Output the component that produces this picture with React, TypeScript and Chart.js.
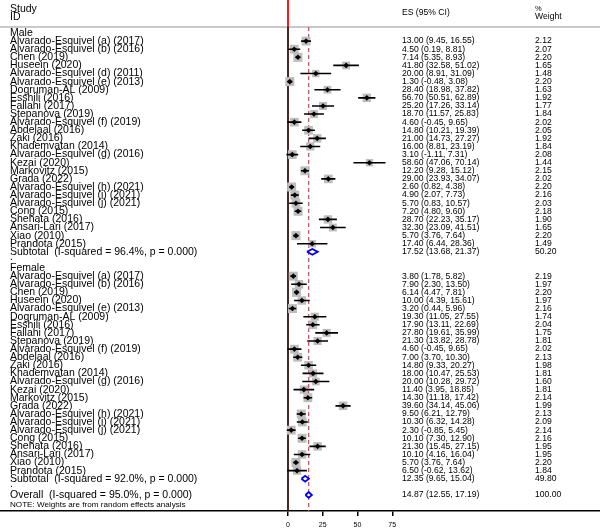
import React, { useEffect, useRef } from 'react';
import { Chart, registerables } from 'chart.js';

Chart.register(...registerables);

// ---------- data ----------
const maleStudies = [
  'Alvarado-Esquivel (a) (2017)', 'Alvarado-Esquivel (b) (2016)', 'Chen (2019)', 'Huseein (2020)',
  'Alvarado-Esquivel (d) (2011)', 'Alvarado-Esquivel (e) (2013)', 'Dogruman-AL (2009)', 'Esshili (2016)',
  'Fallahi (2017)', 'Stepanova (2019)', 'Alvarado-Esquivel (f) (2019)', 'Abdelaal (2016)', 'Zaki (2016)',
  'Khademvatan (2014)', 'Alvarado-Esquivel (g) (2016)', 'Kezai (2020)', 'Markovitz (2015)', 'Grada (2022)',
  'Alvarado-Esquivel (h) (2021)', 'Alvarado-Esquivel (i) (2021)', 'Alvarado-Esquivel (j) (2021)',
  'Cong (2015)', 'Shehata (2016)', 'Ansari-Lari (2017)', 'Xiao (2010)', 'Prandota (2015)',
];
const maleES = [13.0, 4.5, 7.14, 41.8, 20.0, 1.3, 28.4, 56.7, 25.2, 18.7, 4.6, 14.8, 21.0, 16.0, 3.1, 58.6, 12.2, 29.0, 2.6, 4.9, 5.7, 7.2, 28.7, 32.3, 5.7, 17.4];
const maleLower = [9.45, 0.19, 5.35, 32.58, 8.91, -0.48, 18.98, 50.51, 17.26, 11.57, -0.45, 10.21, 14.73, 8.81, -1.11, 47.06, 9.28, 23.93, 0.82, 2.07, 0.83, 4.8, 22.23, 23.09, 3.76, 6.44];
const maleUpper = [16.55, 8.81, 8.93, 51.02, 31.09, 3.08, 37.82, 62.89, 33.14, 25.83, 9.65, 19.39, 27.27, 23.19, 7.31, 70.14, 15.12, 34.07, 4.38, 7.73, 10.57, 9.6, 35.17, 41.51, 7.64, 28.36];
const maleWeights = [2.12, 2.07, 2.2, 1.65, 1.48, 2.2, 1.63, 1.92, 1.77, 1.84, 2.02, 2.05, 1.92, 1.84, 2.08, 1.44, 2.15, 2.02, 2.2, 2.16, 2.03, 2.18, 1.9, 1.65, 2.2, 1.49];

const femaleStudies = [
  'Alvarado-Esquivel (a) (2017)', 'Alvarado-Esquivel (b) (2016)', 'Chen (2019)', 'Huseein (2020)',
  'Alvarado-Esquivel (e) (2013)', 'Dogruman-AL (2009)', 'Esshili (2016)', 'Fallahi (2017)', 'Stepanova (2019)',
  'Alvarado-Esquivel (f) (2019)', 'Abdelaal (2016)', 'Zaki (2016)', 'Khademvatan (2014)',
  'Alvarado-Esquivel (g) (2016)', 'Kezai (2020)', 'Markovitz (2015)', 'Grada (2022)',
  'Alvarado-Esquivel (h) (2021)', 'Alvarado-Esquivel (i) (2021)', 'Alvarado-Esquivel (j) (2021)',
  'Cong (2015)', 'Shehata (2016)', 'Ansari-Lari (2017)', 'Xiao (2010)', 'Prandota (2015)',
];
const femaleES = [3.8, 7.9, 6.14, 10.0, 3.2, 19.3, 17.9, 27.8, 21.3, 4.6, 7.0, 14.8, 18.0, 20.0, 11.4, 14.3, 39.6, 9.5, 10.3, 2.3, 10.1, 21.3, 10.1, 5.7, 6.5];
const femaleLower = [1.78, 2.3, 4.47, 4.39, 0.44, 11.05, 13.11, 19.61, 13.82, -0.45, 3.7, 9.33, 10.47, 10.28, 3.95, 11.18, 34.14, 6.21, 6.32, -0.85, 7.3, 15.45, 4.16, 3.76, -0.62];
const femaleUpper = [5.82, 13.5, 7.81, 15.61, 5.96, 27.55, 22.69, 35.99, 28.78, 9.65, 10.3, 20.27, 25.53, 29.72, 18.85, 17.42, 45.06, 12.79, 14.28, 5.45, 12.9, 27.15, 16.04, 7.64, 13.62];
const femaleWeights = [2.19, 1.97, 2.2, 1.97, 2.16, 1.74, 2.04, 1.75, 1.81, 2.02, 2.13, 1.98, 1.81, 1.6, 1.81, 2.14, 1.99, 2.13, 2.09, 2.14, 2.16, 1.95, 1.95, 2.2, 1.84];

const maleSubtotal = [17.52, 13.68, 21.37];
const maleSubtotalWeight = 50.2;
const maleHeterogeneity = 'I-squared = 96.4%, p = 0.000';
const femaleSubtotal = [12.35, 9.65, 15.04];
const femaleSubtotalWeight = 49.8;
const femaleHeterogeneity = 'I-squared = 92.0%, p = 0.000';
const overallEstimate = [14.87, 12.55, 17.19];
const overallWeight = 100.0;
const overallHeterogeneity = 'I-squared = 95.0%, p = 0.000';
const xTicks = [0, 25, 50, 75];
const noteText = 'NOTE: Weights are from random effects analysis';

// ---------- rows ----------
type Row = { label: string; kind: 'group' | 'study' | 'summary' | 'blank'; es?: number; lo?: number; hi?: number; w?: number };
const rows: Row[] = [];
rows.push({ label: 'Male', kind: 'group' });
maleStudies.forEach((s, i) => rows.push({ label: s, kind: 'study', es: maleES[i], lo: maleLower[i], hi: maleUpper[i], w: maleWeights[i] }));
rows.push({ label: `Subtotal  (${maleHeterogeneity})`, kind: 'summary', es: maleSubtotal[0], lo: maleSubtotal[1], hi: maleSubtotal[2], w: maleSubtotalWeight });
rows.push({ label: '.', kind: 'blank' });
rows.push({ label: 'Female', kind: 'group' });
femaleStudies.forEach((s, i) => rows.push({ label: s, kind: 'study', es: femaleES[i], lo: femaleLower[i], hi: femaleUpper[i], w: femaleWeights[i] }));
rows.push({ label: `Subtotal  (${femaleHeterogeneity})`, kind: 'summary', es: femaleSubtotal[0], lo: femaleSubtotal[1], hi: femaleSubtotal[2], w: femaleSubtotalWeight });
rows.push({ label: '.', kind: 'blank' });
rows.push({ label: `Overall  (${overallHeterogeneity})`, kind: 'summary', es: overallEstimate[0], lo: overallEstimate[1], hi: overallEstimate[2], w: overallWeight });

// ---------- layout constants ----------
const W = 600;
const H = 528;
const AXIS_H = 17;
const ROW_PX = 8.105;
const FIRST_ROW_PX = 33;
const Y_MIN = -FIRST_ROW_PX / ROW_PX;
const Y_MAX = Y_MIN + (H - AXIS_H) / ROW_PX;
const ZERO_PX = 288;
const PX_PER_UNIT = 1.39;
const X_MIN = -ZERO_PX / PX_PER_UNIT;
const X_MAX = (W - ZERO_PX) / PX_PER_UNIT;
const HEADER_ROW = (27 - FIRST_ROW_PX) / ROW_PX;

const FONT = '"Liberation Sans", Arial, Helvetica, sans-serif';

const textPlugin = {
  id: 'forestText',
  afterDraw(chart: any) {
    const ctx = chart.ctx as CanvasRenderingContext2D;
    const ys = chart.scales.y;
    ctx.save();
    ctx.fillStyle = '#000';
    ctx.textBaseline = 'middle';
    ctx.textAlign = 'left';
    ctx.font = `10.5px ${FONT}`;
    ctx.fillText('Study', 10, ys.getPixelForValue(-2.95));
    ctx.fillText('ID', 10, ys.getPixelForValue(-1.98));
    ctx.font = `8.6px ${FONT}`;
    ctx.fillText('ES (95% CI)', 402, ys.getPixelForValue(-2.47));
    ctx.font = `7.5px ${FONT}`;
    ctx.fillText('%', 535, ys.getPixelForValue(-2.95));
    ctx.font = `8.6px ${FONT}`;
    ctx.fillText('Weight', 535, ys.getPixelForValue(-1.98));
    rows.forEach((r, i) => {
      const y = ys.getPixelForValue(i);
      ctx.font = `10.5px ${FONT}`;
      ctx.fillText(r.label, 10, r.kind === 'blank' ? y - 3 : y);
      if (r.es !== undefined) {
        ctx.font = `8.6px ${FONT}`;
        ctx.fillText(`${r.es.toFixed(2)} (${r.lo!.toFixed(2)}, ${r.hi!.toFixed(2)})`, 402, y);
        ctx.fillText(r.w!.toFixed(2), 535, y);
      }
    });
    ctx.font = `8.1px ${FONT}`;
    ctx.fillText(noteText, 10, ys.getPixelForValue(rows.length + 0.25));
    ctx.restore();
  },
};

export default function App() {
  const ref = useRef<HTMLCanvasElement | null>(null);
  useEffect(() => {
    document.body.style.margin = '0';
    if (!ref.current) return;
    const studyRows = rows.map((r, i) => ({ r, i })).filter((o) => o.r.kind === 'study');
    const boxes = studyRows.map(({ r, i }) => ({ x: r.es!, y: i }));
    const boxRadius = studyRows.map(({ r }) => 4.3 * Math.sqrt(r.w!));
    const ciLines: any[] = [];
    studyRows.forEach(({ r, i }) => {
      ciLines.push({ x: r.lo!, y: i }, { x: r.hi!, y: i }, { x: r.hi!, y: null });
    });
    const diamonds: any[] = [];
    rows.forEach((r, i) => {
      if (r.kind !== 'summary') return;
      const h = 0.36;
      diamonds.push(
        { x: r.lo!, y: i }, { x: r.es!, y: i - h }, { x: r.hi!, y: i }, { x: r.es!, y: i + h }, { x: r.lo!, y: i },
        { x: r.lo!, y: null },
      );
    });
    const lineDs = (data: any[], color: string, width: number, order: number, extra: any = {}) => ({
      type: 'scatter',
      data,
      showLine: true,
      borderColor: color,
      borderWidth: width,
      pointRadius: 0,
      fill: false,
      spanGaps: false,
      order,
      ...extra,
    });
    const chart = new Chart(ref.current, {
      type: 'scatter',
      data: {
        datasets: [
          lineDs([{ x: X_MIN, y: HEADER_ROW }, { x: X_MAX, y: HEADER_ROW }], '#c9c9c9', 2, 10),
          lineDs([{ x: 0, y: Y_MIN }, { x: 0, y: HEADER_ROW }], '#ff0000', 1.8, 9),
          lineDs([{ x: 0, y: HEADER_ROW }, { x: 0, y: Y_MAX }], '#3a0f0f', 1.8, 8),
          lineDs([{ x: overallEstimate[0], y: HEADER_ROW }, { x: overallEstimate[0], y: Y_MAX }], '#c0505a', 1.2, 7, { borderDash: [4, 3] }),
          {
            type: 'scatter',
            data: boxes,
            pointStyle: 'rect',
            pointRadius: boxRadius,
            backgroundColor: '#bdbdbd',
            borderWidth: 0,
            order: 6,
          },
          lineDs(ciLines, '#000000', 1.6, 5),
          {
            type: 'scatter',
            data: boxes,
            pointStyle: 'rectRot',
            pointRadius: 2.8,
            backgroundColor: '#000000',
            borderWidth: 0,
            order: 4,
          },
          lineDs(diamonds, '#0000ff', 1.8, 3),
        ] as any,
      },
      options: {
        responsive: false,
        animation: false,
        events: [],
        layout: { padding: 0, autoPadding: false },
        plugins: { legend: { display: false }, tooltip: { enabled: false }, title: { display: false } },
        scales: {
          x: {
            type: 'linear',
            position: 'bottom',
            min: X_MIN,
            max: X_MAX,
            afterBuildTicks: (scale: any) => {
              scale.ticks = xTicks.map((v) => ({ value: v }));
            },
            afterFit: (scale: any) => {
              scale.height = AXIS_H;
              scale.paddingLeft = 0;
              scale.paddingRight = 0;
            },
            grid: { drawOnChartArea: false, drawTicks: true, tickLength: 5, color: '#000', lineWidth: 1.5 },
            border: { display: true, color: '#000', width: 1.5 },
            ticks: {
              autoSkip: false,
              maxRotation: 0,
              padding: 5,
              color: '#000',
              font: { family: FONT, size: 7 },
              callback: (v: any) => String(v),
            },
          },
          y: {
            type: 'linear',
            display: false,
            reverse: true,
            min: Y_MIN,
            max: Y_MAX,
          },
        },
      } as any,
      plugins: [textPlugin],
    });
    return () => chart.destroy();
  }, []);
  return (
    <div style={{ width: W, height: H, background: '#fff' }}>
      <canvas ref={ref} width={W} height={H} style={{ width: W, height: H, display: 'block' }} />
    </div>
  );
}
